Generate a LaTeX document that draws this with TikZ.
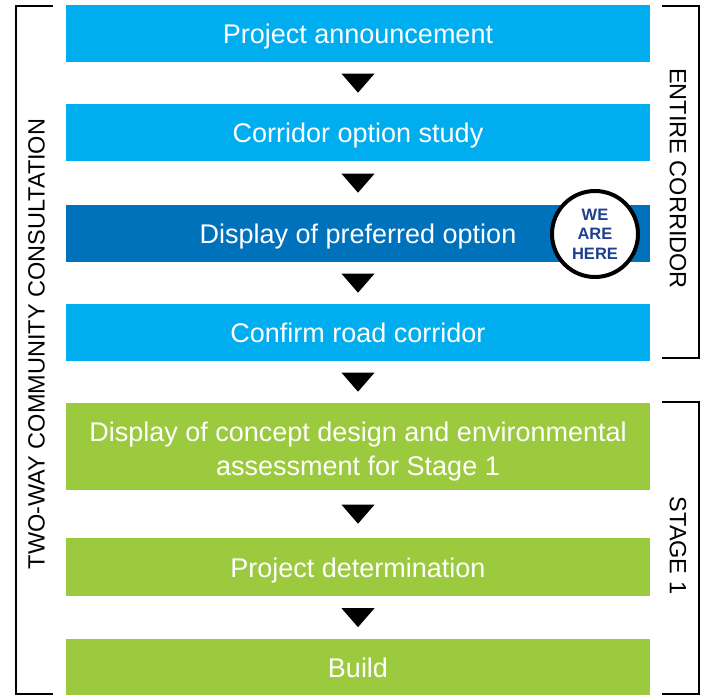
\documentclass[tikz,border=0pt]{standalone}
\usepackage{fontspec}
\setmainfont{Liberation Sans}
\usetikzlibrary{calc}
\definecolor{lightblue}{HTML}{00AEEF}
\definecolor{darkblue}{HTML}{0072BC}
\definecolor{leafgreen}{HTML}{9BCA3E}
\definecolor{herenavy}{HTML}{1E3F8E}
\tikzset{
	stepbox/.style={anchor=north, minimum width=584pt, minimum height=57pt, inner sep=0pt,
		text=white, align=center, font=\fontsize{27}{34}\selectfont},
	sidelabel/.style={font=\fontsize{23.5}{28}\selectfont, inner sep=0pt},
	bracket/.style={line width=2pt}
}
% text set a little lower in its box
\newcommand{\steptext}[2][-3pt]{\raisebox{#1}[\height][\depth]{#2}}
% arrow head between two boxes
\newcommand{\flowtip}[2]{%
	\path ($(#1.south)!0.5!(#2.north)$) coordinate (tip-#1);
	\fill ([shift={(-16.5,-9.5)}]tip-#1) -- ([shift={(16.5,-9.5)}]tip-#1) -- ([shift={(0,9.5)}]tip-#1) -- cycle;}
\begin{document}
\begin{tikzpicture}[x=1pt, y=-1pt]
	\useasboundingbox (0,0) rectangle (705,695);

	\node[stepbox, fill=lightblue] (announce) at (358,5) {\steptext{Project announcement}};
	\node[stepbox, fill=lightblue] (study) at (358,104) {\steptext{Corridor option study}};
	\node[stepbox, fill=darkblue] (display) at (358,205) {\steptext{Display of preferred option}};
	\node[stepbox, fill=lightblue] (confirm) at (358,304) {\steptext[0pt]{Confirm road corridor}};
	\node[stepbox, fill=leafgreen, minimum height=87pt] (concept) at (358,403)
		{\steptext[-5pt]{\begin{tabular}{@{}c@{}}Display of concept design and environmental\\assessment for Stage 1\end{tabular}}};
	\node[stepbox, fill=leafgreen, minimum height=58pt] (determine) at (358,538) {\steptext{Project determination}};
	\node[stepbox, fill=leafgreen, minimum height=58pt] (build) at (358,639) {\steptext[0pt]{Build}};

	\flowtip{announce}{study}
	\flowtip{study}{display}
	\flowtip{display}{confirm}
	\flowtip{confirm}{concept}
	\flowtip{concept}{determine}
	\flowtip{determine}{build}

	\node[circle, draw, line width=4pt, fill=white, minimum size=86pt, inner sep=0pt, text=herenavy,
		align=center, font=\bfseries\fontsize{16.5}{19.5}\selectfont] (here) at (595,234) {WE\\ARE\\HERE};

	\draw[bracket] (53,6) -- (16,6) -- (16,694) -- (53,694);
	\draw[bracket] (662,6) -- (699,6) -- (699,358) -- (662,358);
	\draw[bracket] (662,402) -- (699,402) -- (699,694) -- (662,694);

	\node[sidelabel, rotate=90] (twoway) at (36.5,344) {TWO-WAY COMMUNITY CONSULTATION};
	\node[sidelabel, rotate=-90] (entire) at (678,178.5) {ENTIRE CORRIDOR};
	\node[sidelabel, rotate=-90] (stage) at (678,545.5) {STAGE 1};
\end{tikzpicture}
\end{document}
